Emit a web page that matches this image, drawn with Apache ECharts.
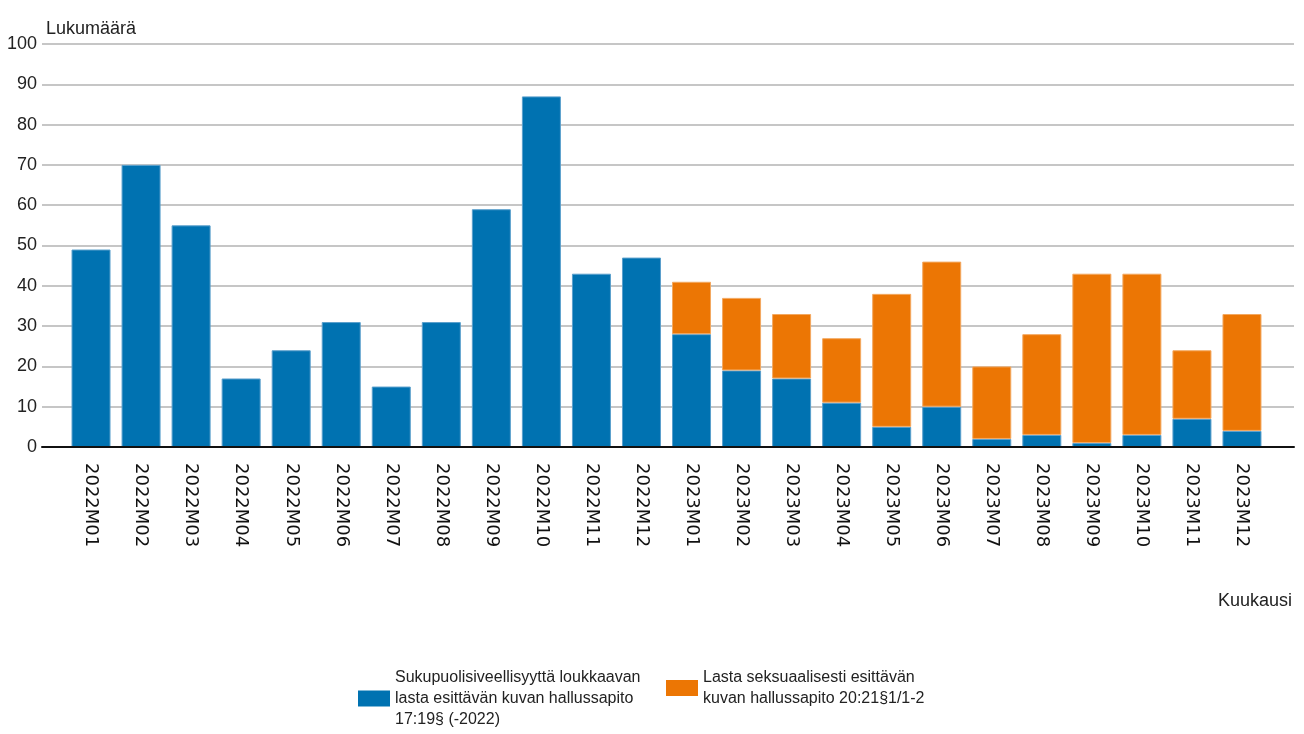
<!DOCTYPE html>
<html>
<head>
<meta charset="utf-8">
<script src="https://cdn.jsdelivr.net/npm/echarts@6/dist/echarts.min.js"></script>
<style>
html,body{margin:0;padding:0;background:#fff;}
#chart{width:1304px;height:734px;}
</style>
</head>
<body>
<div id="chart"></div>
<script>
var categories = ['2022M01','2022M02','2022M03','2022M04','2022M05','2022M06','2022M07','2022M08','2022M09','2022M10','2022M11','2022M12',
  '2023M01','2023M02','2023M03','2023M04','2023M05','2023M06','2023M07','2023M08','2023M09','2023M10','2023M11','2023M12'];
var seriesBlueName = 'Sukupuolisiveellisyyttä loukkaavan\nlasta esittävän kuvan hallussapito\n17:19§ (-2022)';
var seriesOrangeName = 'Lasta seksuaalisesti esittävän\nkuvan hallussapito 20:21§1/1-2';
var blueValues = [49,70,55,17,24,31,15,31,59,87,43,47, 28,19,17,11,5,10,2,3,1,3,7,4];
var orangeValues = [null,null,null,null,null,null,null,null,null,null,null,null, 13,18,16,16,33,36,18,25,42,40,17,29];
var yTicks = {min:0, max:100, interval:10};
var yName = 'Lukumäärä';
var xName = 'Kuukausi';

var narrow = '"Liberation Sans Narrow","Arial Narrow","Liberation Sans",Arial,sans-serif';
var chart = echarts.init(document.getElementById('chart'));
var option = {
  backgroundColor:'#fff',
  animation:false,
  title:[{text:xName, right:12, top:592, padding:0, textStyle:{fontFamily:narrow, fontSize:18, fontWeight:'normal', color:'#222'}}],
  legend:[
    {left:358, top:667, padding:0, orient:'horizontal', itemWidth:32, itemHeight:16, icon:'rect', data:[seriesBlueName],
     itemStyle:{borderWidth:0}, textStyle:{fontFamily:narrow, fontSize:16, lineHeight:21, color:'#222'}},
    {left:666, top:667, padding:0, orient:'horizontal', itemWidth:32, itemHeight:16, icon:'rect', data:[seriesOrangeName],
     itemStyle:{borderWidth:0}, textStyle:{fontFamily:narrow, fontSize:16, lineHeight:21, color:'#222'}}
  ],
  grid:[
    {left:42, right:10, top:44, height:403},
    {left:66, right:37, top:44, height:403}
  ],
  xAxis:[
    {gridIndex:0, type:'value', min:0, max:1, z:5,
     axisLine:{show:true, onZero:false, lineStyle:{color:'#111', width:2}},
     axisTick:{show:false}, axisLabel:{show:false}, splitLine:{show:false}},
    {gridIndex:1, type:'category', data:categories,
     axisLine:{show:false}, axisTick:{show:false},
     axisLabel:{rotate:-90, interval:0, margin:16, fontFamily:'"DejaVu Sans",sans-serif', fontSize:18, color:'#111'}}
  ],
  yAxis:[
    {gridIndex:0, type:'value', min:yTicks.min, max:yTicks.max, interval:yTicks.interval,
     name:yName, nameLocation:'end', nameGap:6,
     nameTextStyle:{align:'left', verticalAlign:'bottom', fontFamily:narrow, fontSize:18, color:'#222', padding:[0,0,0,4]},
     axisLine:{show:false}, axisTick:{show:false},
     axisLabel:{margin:5, fontFamily:narrow, fontSize:18, color:'#222'},
     splitLine:{lineStyle:{color:'#c6c6c6', width:2}}},
    {gridIndex:1, type:'value', min:yTicks.min, max:yTicks.max, interval:yTicks.interval, show:false}
  ],
  series:[
    {name:seriesBlueName, type:'bar', stack:'s', xAxisIndex:1, yAxisIndex:1, barWidth:39,
     data:blueValues, itemStyle:{color:'#0072b1', borderColor:'#5a9fcc', borderWidth:1}},
    {name:seriesOrangeName, type:'bar', stack:'s', xAxisIndex:1, yAxisIndex:1, barWidth:39,
     data:orangeValues, itemStyle:{color:'#ec7604', borderColor:'#f3a860', borderWidth:1}}
  ]
};
chart.setOption(option);
</script>
</body>
</html>
